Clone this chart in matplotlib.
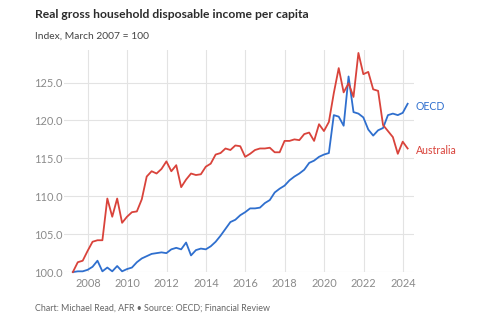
import matplotlib
matplotlib.use("Agg")
import matplotlib.pyplot as plt
import numpy as np

# quarterly, March 2007 .. March 2024
start_year = 2007
australia = [100.0, 101.3, 101.5, 102.8,
             104.0, 104.2, 104.2, 109.7,
             107.3, 109.7, 106.5, 107.3,
             107.9, 108.0, 109.6, 112.6,
             113.3, 113.0, 113.6, 114.6,
             113.3, 114.1, 111.2, 112.2,
             113.0, 112.8, 112.9, 113.9,
             114.3, 115.5, 115.7, 116.3,
             116.1, 116.7, 116.6, 115.2,
             115.6, 116.1, 116.3, 116.3,
             116.4, 115.8, 115.8, 117.3,
             117.3, 117.5, 117.4, 118.2,
             118.4, 117.3, 119.5, 118.6,
             119.8, 123.6, 126.9, 123.7,
             124.9, 123.1, 128.9, 126.1,
             126.4, 124.1, 123.9, 119.4,
             118.6, 117.8, 115.6, 117.2,
             116.3]
oecd = [100.0, 100.1, 100.1, 100.3,
        100.7, 101.5, 100.1, 100.6,
        100.1, 100.8, 100.1, 100.4,
        100.6, 101.3, 101.8, 102.1,
        102.4, 102.5, 102.6, 102.5,
        103.0, 103.2, 103.0, 103.9,
        102.2, 102.9, 103.1, 103.0,
        103.4, 104.0, 104.8, 105.7,
        106.6, 106.9, 107.5, 107.9,
        108.4, 108.4, 108.5, 109.1,
        109.5, 110.5, 111.0, 111.4,
        112.1, 112.6, 113.0, 113.5,
        114.4, 114.7, 115.2, 115.5,
        115.7, 120.7, 120.5, 119.3,
        125.8, 121.1, 120.9, 120.4,
        118.8, 118.0, 118.7, 119.0,
        120.7, 120.9, 120.7, 121.0,
        122.2]
x_ticks = [2008, 2010, 2012, 2014, 2016, 2018, 2020, 2022, 2024]
y_ticks = [100, 105, 110, 115, 120, 125]

t = start_year + 0.24 + 0.25 * np.arange(len(australia))

plt.rcParams['font.family'] = ['Lato', 'DejaVu Sans']

fig = plt.figure(figsize=(4.87, 3.22), dpi=100)
ax = fig.add_axes([0.131, 0.155, 0.719, 0.69])

red = '#d9433b'
blue = '#2f6fce'
ax.plot(t, oecd, color=blue, lw=1.3, clip_on=False, zorder=3)
ax.plot(t, australia, color=red, lw=1.3, clip_on=False, zorder=3)

ax.set_xlim(2006.78, 2024.56)
ax.set_ylim(100, 129.3)
ax.set_xticks(x_ticks)
ax.set_yticks(y_ticks)
ax.set_yticklabels([f"{v:.1f}" for v in y_ticks])
ax.grid(True, color='#e3e3e3', lw=0.8)
ax.set_axisbelow(True)
for s in ax.spines.values():
    s.set_visible(False)
ax.tick_params(length=0, labelsize=7.9, colors='#8a8a8a', pad=4)
ax.tick_params(axis='y', pad=1)

ax.text(1.005, 121.8, 'OECD', transform=ax.get_yaxis_transform(), color=blue,
        fontsize=7.6, va='center', ha='left')
ax.text(1.005, 116.0, 'Australia', transform=ax.get_yaxis_transform(), color=red,
        fontsize=7.6, va='center', ha='left')

fig.text(35 / 487, 1 - 15 / 322, 'Real gross household disposable income per capita',
         fontsize=8.7, fontweight='bold', color='#2b2b2b', va='center', ha='left')
fig.text(35 / 487, 1 - 36 / 322, 'Index, March 2007 = 100',
         fontsize=7.4, color='#444444', va='center', ha='left')
fig.text(35 / 487, 1 - 308 / 322, 'Chart: Michael Read, AFR \u2022 Source: OECD; Financial Review',
         fontsize=6.4, color='#666666', va='center', ha='left')

fig.savefig('out.png', dpi=100)
